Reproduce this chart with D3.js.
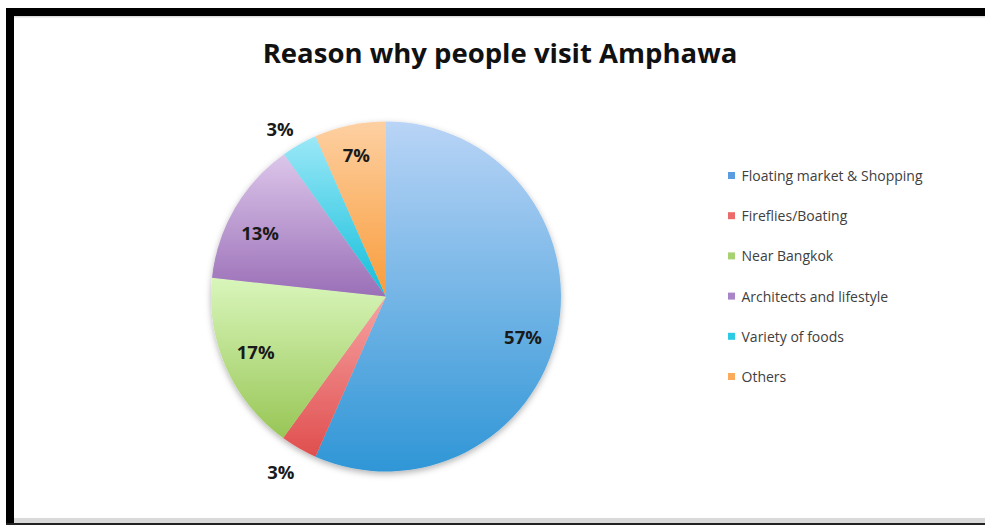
<!DOCTYPE html>
<html>
<head>
<meta charset="utf-8">
<script src="https://cdn.jsdelivr.net/npm/d3@7"></script>
<style>
  body { margin: 0; background: #fff; }
  svg { display: block; font-family: "Open Sans", Lato, sans-serif; }
</style>
</head>
<body>
<script>
// data
var categories = ["Floating market & Shopping", "Fireflies/Boating", "Near Bangkok",
  "Architects and lifestyle", "Variety of foods", "Others"];
var values = [56.6, 3.4, 16.7, 13.4, 3.3, 6.6];
var labels = ["57%", "3%", "17%", "13%", "3%", "7%"];

// top / bottom gradient colours per slice
var lightColors = ["#b9d4f6", "#f7a3a3", "#d9f6bb", "#dcc6ea", "#9be8f7", "#fdd0a2"];
var darkColors = ["#2f96d6", "#e04e4e", "#98c656", "#9a6fb7", "#12bedb", "#f99c3a"];
var keyColors = ["#5b9be0", "#ec6a6a", "#a8d271", "#a885c8", "#2dcbe3", "#fbab5c"];

var svgWidth = 985;
var svgHeight = 525;

var cx = 386, cy = 296.5, radius = 175;

var svg = d3.select("body")
  .append("svg")
  .attr("width", svgWidth)
  .attr("height", svgHeight);

var defs = svg.append("defs");

var shadow = defs.append("filter")
  .attr("id", "shadow")
  .attr("x", "-20%").attr("y", "-20%")
  .attr("width", "140%").attr("height", "140%");
shadow.append("feDropShadow")
  .attr("dx", 0).attr("dy", 2.5)
  .attr("stdDeviation", 3)
  .attr("flood-color", "#000")
  .attr("flood-opacity", 0.3);

categories.forEach(function (c, i) {
  var g = defs.append("linearGradient")
    .attr("id", "grad" + i)
    .attr("x1", 0).attr("y1", 0).attr("x2", 0).attr("y2", 1);
  g.append("stop").attr("offset", "0%").attr("stop-color", lightColors[i]);
  g.append("stop").attr("offset", "100%").attr("stop-color", darkColors[i]);
});

// frame of the screenshot
svg.append("rect").attr("x", 6).attr("y", 8).attr("width", svgWidth - 6).attr("height", 8).attr("fill", "#000");
svg.append("rect").attr("x", 14).attr("y", 16).attr("width", svgWidth - 14).attr("height", 1.5).attr("fill", "#ddd");
svg.append("rect").attr("x", 6).attr("y", 8).attr("width", 8).attr("height", svgHeight - 8).attr("fill", "#000");
svg.append("rect").attr("x", 14).attr("y", 518).attr("width", svgWidth - 14).attr("height", 5).attr("fill", "#d9d9d9");
svg.append("rect").attr("x", 6).attr("y", 523).attr("width", svgWidth - 6).attr("height", 2).attr("fill", "#222");

// title
svg.append("text")
  .attr("x", 500)
  .attr("y", 63)
  .attr("text-anchor", "middle")
  .style("font-size", "27.5px")
  .style("font-weight", "bold")
  .style("fill", "#111")
  .text("Reason why people visit Amphawa");

var pie = d3.pie().sort(null).value(function (d) { return d; });
var arcs = pie(values);

var arc = d3.arc().innerRadius(0).outerRadius(radius);

var chart = svg.append("g")
  .attr("transform", "translate(" + cx + "," + cy + ")");

chart.append("g")
  .attr("filter", "url(#shadow)")
  .selectAll("path")
  .data(arcs)
  .enter()
  .append("path")
  .attr("d", arc)
  .attr("fill", function (d, i) { return "url(#grad" + i + ")"; });

// label positions: inside for big slices, outside for the small ones
var labelRadius = [0.8, 1.16, 0.815, 0.8, 1.13, 0.825];
var labelNudgeX = [0, -4, 0, -5, -8, 0];
var labelNudgeY = [12, 0, -2, 8, 5, 0];
chart.selectAll("text.lbl")
  .data(arcs)
  .enter()
  .append("text")
  .attr("class", "lbl")
  .attr("transform", function (d, i) {
    var a = (d.startAngle + d.endAngle) / 2;
    var r = radius * labelRadius[i];
    return "translate(" + (Math.sin(a) * r + labelNudgeX[i]) + "," + (-Math.cos(a) * r + labelNudgeY[i]) + ")";
  })
  .attr("dy", "0.35em")
  .attr("text-anchor", "middle")
  .style("font-size", "18.5px")
  .style("font-weight", "bold")
  .style("fill", "#1a1a1a")
  .text(function (d, i) { return labels[i]; });

// legend
var legend = svg.append("g")
  .attr("transform", "translate(728,176)");

var item = legend.selectAll("g")
  .data(categories)
  .enter()
  .append("g")
  .attr("transform", function (d, i) { return "translate(0," + (i * 40.2) + ")"; });

item.append("rect")
  .attr("x", 0).attr("y", -4)
  .attr("width", 7).attr("height", 7)
  .attr("fill", function (d, i) { return keyColors[i]; });

item.append("text")
  .attr("x", 13.5)
  .attr("dy", "0.35em")
  .style("font-size", "14px")
  .style("fill", "#404040")
  .text(function (d) { return d; });
</script>
</body>
</html>
